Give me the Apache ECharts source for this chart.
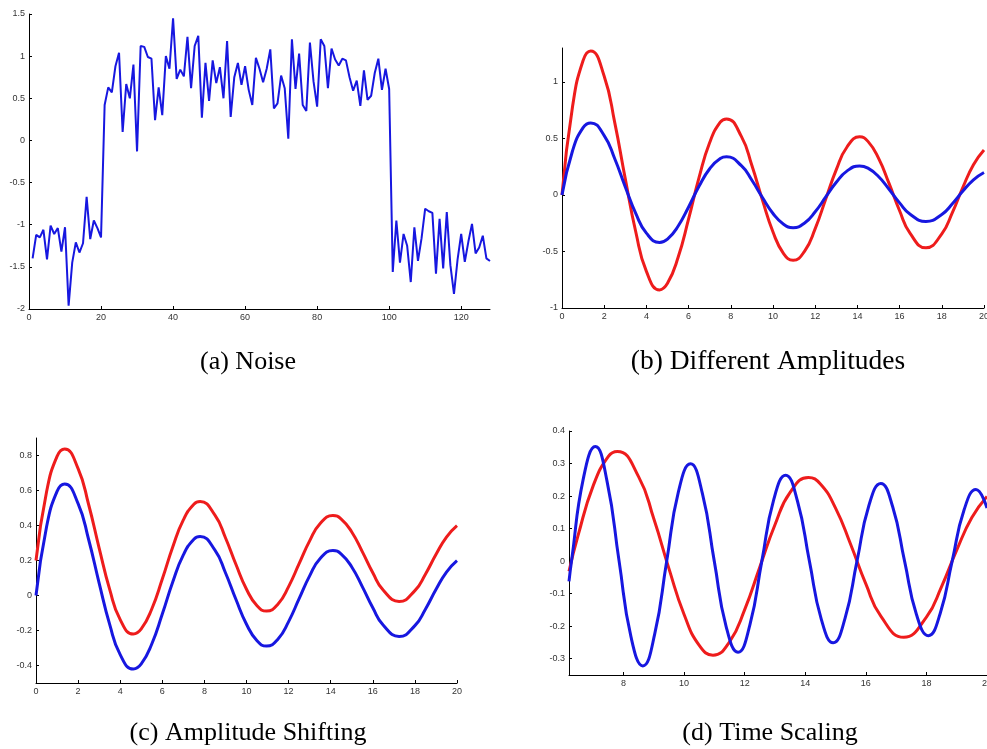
<!DOCTYPE html>
<html>
<head>
<meta charset="utf-8">
<script src="https://cdn.jsdelivr.net/npm/echarts@6/dist/echarts.min.js"></script>
<style>
  html, body { margin: 0; padding: 0; background: #fff; }
  #main { width: 987px; height: 749px; }
</style>
</head>
<body>
<div id="main"></div>
<script>
// (a) noise signal, x = 1..128
const noiseY = [
  -1.40, -1.12, -1.15, -1.06, -1.41, -1.01, -1.11, -1.04, -1.32, -1.03,
  -1.96, -1.45, -1.21, -1.33, -1.22, -0.67, -1.17, -0.95, -1.04, -1.15,
  0.42, 0.63, 0.57, 0.88, 1.04, 0.10, 0.67, 0.50, 0.90, -0.13,
  1.12, 1.11, 0.99, 0.97, 0.24, 0.63, 0.30, 1.00, 0.85, 1.45,
  0.73, 0.84, 0.76, 1.23, 0.62, 1.12, 1.24, 0.27, 0.92, 0.47,
  0.95, 0.68, 0.87, 0.50, 1.18, 0.28, 0.75, 0.92, 0.66, 0.88,
  0.60, 0.42, 0.98, 0.85, 0.69, 0.85, 1.08, 0.38, 0.44, 0.77,
  0.62, 0.02, 1.20, 0.61, 1.03, 0.42, 0.35, 1.16, 0.70, 0.40,
  1.20, 1.12, 0.62, 1.09, 0.96, 0.89, 0.97, 0.95, 0.75, 0.59,
  0.71, 0.41, 0.83, 0.48, 0.53, 0.80, 0.97, 0.60, 0.85, 0.61,
  -1.56, -0.95, -1.45, -1.11, -1.25, -1.68, -1.03, -1.43, -1.16, -0.81,
  -0.84, -0.86, -1.58, -0.93, -1.52, -0.85, -1.48, -1.82, -1.41, -1.11,
  -1.44, -1.20, -0.99, -1.34, -1.27, -1.13, -1.40, -1.43
];

// (b), (c) shared x samples (extrema included)
const waveX = [0, 0.5, 1, 1.362, 2, 2.5, 3, 3.5, 4, 4.623, 5, 5.5, 6, 6.5, 7, 7.5, 7.797, 8.5, 9, 9.5,
  10, 10.5, 10.954, 11.5, 12, 12.5, 13, 13.5, 14.104, 14.5, 15, 15.5, 16, 16.5, 17.251, 18, 18.5, 19, 19.5, 20];
const baseY = [0, 0.391, 0.595, 0.637, 0.525, 0.320, 0.071, -0.165, -0.338, -0.420,
  -0.391, -0.277, -0.106, 0.079, 0.232, 0.322, 0.337, 0.259, 0.130, -0.023,
  -0.164, -0.259, -0.289, -0.248, -0.149, -0.018, 0.112, 0.211, 0.257, 0.237,
  0.163, 0.051, -0.070, -0.170, -0.234, -0.172, -0.078, 0.034, 0.134, 0.199];
const doubledY = [0, 0.782, 1.190, 1.273, 1.050, 0.640, 0.142, -0.330, -0.676, -0.840,
  -0.782, -0.554, -0.212, 0.158, 0.464, 0.644, 0.673, 0.518, 0.260, -0.046,
  -0.328, -0.518, -0.578, -0.496, -0.298, -0.036, 0.224, 0.422, 0.514, 0.474,
  0.326, 0.102, -0.140, -0.340, -0.468, -0.344, -0.156, 0.068, 0.268, 0.398];
const shiftedY = [0.2, 0.591, 0.795, 0.837, 0.725, 0.520, 0.271, 0.035, -0.138, -0.220,
  -0.191, -0.077, 0.094, 0.279, 0.432, 0.522, 0.537, 0.459, 0.330, 0.177,
  0.036, -0.059, -0.089, -0.048, 0.051, 0.182, 0.312, 0.411, 0.457, 0.437,
  0.363, 0.251, 0.130, 0.030, -0.034, 0.028, 0.122, 0.234, 0.334, 0.399];

// (d) time scaling
const timeRedX = [6.2, 6.5, 7, 7.5, 7.797, 8.5, 9, 9.5, 10, 10.5, 10.954, 11.5, 12, 12.5, 13, 13.5,
  14.104, 14.5, 15, 15.5, 16, 16.5, 17.251, 18, 18.5, 19, 19.5, 20];
const timeRedY = [-0.031, 0.079, 0.232, 0.322, 0.337, 0.259, 0.130, -0.023, -0.164, -0.259,
  -0.289, -0.248, -0.149, -0.018, 0.112, 0.211, 0.257, 0.237, 0.163, 0.051,
  -0.070, -0.170, -0.234, -0.172, -0.078, 0.034, 0.134, 0.199];
const timeBlueX = [6.2, 6.283, 6.676, 7.069, 7.461, 7.854, 8.247, 8.639, 9.032, 9.425,
  9.817, 10.210, 10.603, 10.996, 11.388, 11.781, 12.174, 12.566, 12.959, 13.352,
  13.744, 14.137, 14.530, 14.923, 15.315, 15.708, 16.101, 16.493, 16.886, 17.279,
  17.671, 18.064, 18.457, 18.850, 19.242, 19.635, 20];
const timeBlueY = [-0.062, 0, 0.255, 0.352, 0.243, 0, -0.233, -0.322, -0.223, 0,
  0.215, 0.299, 0.208, 0, -0.201, -0.280, -0.195, 0, 0.189, 0.264,
  0.184, 0, -0.179, -0.251, -0.175, 0, 0.171, 0.239, 0.167, 0,
  -0.164, -0.229, -0.160, 0, 0.157, 0.220, 0.163];

// tick labels
const ticksA_x = [0, 20, 40, 60, 80, 100, 120];
const ticksA_y = [-2, -1.5, -1, -0.5, 0, 0.5, 1, 1.5];
const ticksB_x = [0, 2, 4, 6, 8, 10, 12, 14, 16, 18, 20];
const ticksB_y = [-1, -0.5, 0, 0.5, 1];
const ticksC_y = [-0.4, -0.2, 0, 0.2, 0.4, 0.6, 0.8];
const ticksD_x = [8, 10, 12, 14, 16, 18, 20];
const ticksD_y = [-0.3, -0.2, -0.1, 0, 0.1, 0.2, 0.3, 0.4];

const captions = ['(a) Noise', '(b) Different Amplitudes', '(c) Amplitude Shifting', '(d) Time Scaling'];

const RED = '#ee1c1c';
const BLUE = '#1717e0';

function pairs(xs, ys) {
  return xs.map((x, i) => [x, ys[i]]);
}

function xAxis(idx, min, max, ticks) {
  return {
    type: 'value', gridIndex: idx, min: min, max: max,
    splitLine: { show: false },
    axisLine: { onZero: false, lineStyle: { color: '#000', width: 1 } },
    axisTick: { inside: true, length: 3, customValues: ticks, lineStyle: { color: '#000' } },
    axisLabel: { customValues: ticks, margin: 4, fontSize: 9, color: '#333', fontFamily: 'Liberation Sans' }
  };
}

function yAxis(idx, min, max, ticks) {
  return {
    type: 'value', gridIndex: idx, min: min, max: max,
    splitLine: { show: false },
    axisLine: { show: true, onZero: false, lineStyle: { color: '#000', width: 1 } },
    axisTick: { show: true, inside: true, length: 3, customValues: ticks, lineStyle: { color: '#000' } },
    axisLabel: { customValues: ticks, margin: 4, fontSize: 9, color: '#333', fontFamily: 'Liberation Sans' }
  };
}

function line(idx, data, color, width, smooth) {
  return {
    type: 'line', xAxisIndex: idx, yAxisIndex: idx, data: data,
    showSymbol: false, smooth: smooth, animation: false,
    lineStyle: { color: color, width: width }
  };
}

const captionStyle = { fontFamily: 'Liberation Serif', fontSize: 26, fontWeight: 'normal', color: '#000' };

const chart = echarts.init(document.getElementById('main'));
chart.setOption({
  backgroundColor: '#fff',
  animation: false,
  title: [
    { text: captions[0], left: 248, top: 349, textAlign: 'center', padding: 0, textStyle: captionStyle },
    { text: captions[1], left: 768, top: 348, textAlign: 'center', padding: 0,
      textStyle: Object.assign({}, captionStyle, { fontSize: 27.5 }) },
    { text: captions[2], left: 248, top: 720, textAlign: 'center', padding: 0, textStyle: captionStyle },
    { text: captions[3], left: 770, top: 720, textAlign: 'center', padding: 0, textStyle: captionStyle }
  ],
  grid: [
    { left: 29, top: 14, width: 461, height: 295, outerBoundsMode: 'none' },
    { left: 562, top: 48, width: 422, height: 260, outerBoundsMode: 'none' },
    { left: 36, top: 438, width: 421, height: 245, outerBoundsMode: 'none' },
    { left: 569, top: 431, width: 418, height: 244, outerBoundsMode: 'none' }
  ],
  xAxis: [
    xAxis(0, 0, 128, ticksA_x),
    xAxis(1, 0, 20, ticksB_x),
    xAxis(2, 0, 20, ticksB_x),
    xAxis(3, 6.2, 20, ticksD_x)
  ],
  yAxis: [
    yAxis(0, -2, 1.5, ticksA_y),
    yAxis(1, -1, 1.3, ticksB_y),
    yAxis(2, -0.5, 0.9, ticksC_y),
    yAxis(3, -0.35, 0.4, ticksD_y)
  ],
  series: [
    line(0, noiseY.map((y, i) => [i + 1, y]), BLUE, 2, false),
    line(1, pairs(waveX, doubledY), RED, 3, true),
    line(1, pairs(waveX, baseY), BLUE, 3, true),
    line(2, pairs(waveX, shiftedY), RED, 3, true),
    line(2, pairs(waveX, baseY), BLUE, 3, true),
    line(3, pairs(timeRedX, timeRedY), RED, 3, true),
    line(3, pairs(timeBlueX, timeBlueY), BLUE, 3, true)
  ]
});
</script>
</body>
</html>
